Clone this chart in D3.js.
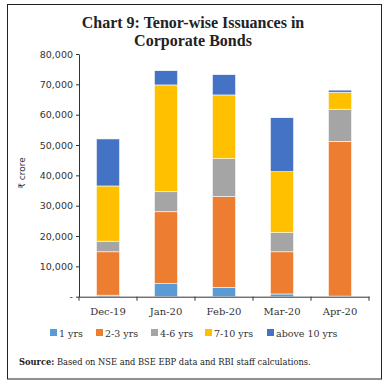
<!DOCTYPE html>
<html>
<head>
<meta charset="utf-8">
<script src="https://cdn.jsdelivr.net/npm/d3@7"></script>
<style>
  body { margin: 0; background: #fff; }
  svg { display: block; }
</style>
</head>
<body>
<svg width="387" height="386"></svg>
<script>
// data
const months = ["Dec-19", "Jan-20", "Feb-20", "Mar-20", "Apr-20"];
const tenors = ["1 yrs", "2-3 yrs", "4-6 yrs", "7-10 yrs", "above 10 yrs"];
const oneYr    = [500, 4300, 3100, 900, 200];
const twoThree = [14300, 23700, 29900, 13900, 51000];
const fourSix  = [3500, 6600, 12500, 6300, 10600];
const sevenTen = [18200, 35200, 21000, 20100, 5600];
const aboveTen = [15500, 4700, 6700, 17800, 700];
const yTicks = [0, 10000, 20000, 30000, 40000, 50000, 60000, 70000, 80000];
const colors = ["#5b9bd5", "#ed7d31", "#a5a5a5", "#ffc000", "#4472c4"];

const svg = d3.select("svg");

// frame
svg.append("rect")
  .attr("x", 7.5).attr("y", 4.5)
  .attr("width", 374).attr("height", 374.5)
  .attr("fill", "none").attr("stroke", "#222").attr("stroke-width", 1);

// title
const title = svg.append("text")
  .attr("text-anchor", "middle")
  .style("font-family", "'Liberation Serif', serif")
  .style("font-weight", "bold")
  .style("font-size", "16px")
  .attr("fill", "#222");
title.append("tspan").attr("x", 193).attr("y", 28).text("Chart 9: Tenor-wise Issuances in");
title.append("tspan").attr("x", 193).attr("y", 46).text("Corporate Bonds");

const margin = {left: 79, top: 54};
const innerW = 369 - 79;
const innerH = 296.7 - 54;

const table = months.map((m, i) => ({
  month: m,
  "1 yrs": oneYr[i], "2-3 yrs": twoThree[i], "4-6 yrs": fourSix[i],
  "7-10 yrs": sevenTen[i], "above 10 yrs": aboveTen[i]
}));
const stacked = d3.stack().keys(tenors)(table);

const x = d3.scaleBand().domain(months).range([0, innerW])
  .paddingInner(0.6).paddingOuter(0.3);
const y = d3.scaleLinear().domain([0, 80000]).range([innerH, 0]);
const color = d3.scaleOrdinal().domain(tenors).range(colors);

const g = svg.append("g").attr("transform", `translate(${margin.left},${margin.top})`);

g.selectAll(".series")
  .data(stacked)
  .enter()
  .append("g")
  .attr("class", "series")
  .attr("fill", d => color(d.key))
  .selectAll("rect")
  .data(d => d)
  .enter()
  .append("rect")
  .attr("x", d => x(d.data.month))
  .attr("y", d => y(d[1]))
  .attr("width", x.bandwidth())
  .attr("height", d => y(d[0]) - y(d[1]))
  .attr("stroke", "#fff")
  .attr("stroke-width", 0.6);

// y axis
const yAxis = d3.axisLeft(y).tickValues(yTicks).tickSize(3).tickSizeOuter(0)
  .tickFormat(d => d === 0 ? "-" : d3.format(",")(d));
const ya = g.append("g").call(yAxis);
ya.select(".domain").attr("stroke", "#333");
ya.selectAll(".tick line").attr("stroke", "#333");
ya.selectAll("text")
  .style("font-family", "'DejaVu Sans', sans-serif")
  .style("font-size", "9.5px")
  .attr("fill", "#333")
  .attr("x", -6);

// x axis: labels centred on bars, ticks at category boundaries
const xAxis = d3.axisBottom(x).tickSize(0).tickSizeOuter(0);
const xa = g.append("g").attr("transform", `translate(0,${innerH})`).call(xAxis);
xa.select(".domain").attr("stroke", "#333");
xa.selectAll("text")
  .style("font-family", "'DejaVu Serif', serif")
  .style("font-size", "10px")
  .attr("fill", "#333")
  .attr("dy", "1.55em");
const bounds = months.map(m => x(m) + x.bandwidth() / 2 - x.step() / 2)
  .concat([innerW]);
xa.selectAll(".bound")
  .data(bounds)
  .enter()
  .append("line")
  .attr("x1", d => d).attr("x2", d => d)
  .attr("y1", 0).attr("y2", 4)
  .attr("stroke", "#333");

// y label
svg.append("text")
  .attr("transform", "translate(25,173) rotate(-90)")
  .attr("text-anchor", "middle")
  .style("font-family", "'DejaVu Sans', sans-serif")
  .style("font-size", "9px")
  .attr("fill", "#333")
  .text("₹ crore");

// legend
const legendX = [50, 96, 151, 205, 267];
const legend = svg.append("g");
const item = legend.selectAll("g")
  .data(tenors)
  .enter()
  .append("g")
  .attr("transform", (d, i) => `translate(${legendX[i]},329)`);
item.append("rect")
  .attr("width", 7).attr("height", 7)
  .attr("fill", d => color(d));
item.append("text")
  .attr("x", 9).attr("y", 7.5)
  .style("font-family", "'DejaVu Serif', serif")
  .style("font-size", "9.5px")
  .attr("fill", "#333")
  .text(d => d);

// source note
const src = svg.append("text")
  .attr("x", 19).attr("y", 365)
  .style("font-family", "'DejaVu Serif', serif")
  .style("font-size", "8.3px")
  .attr("fill", "#222");
src.append("tspan").style("font-weight", "bold").text("Source:");
src.append("tspan").text(" Based on NSE and BSE EBP data and RBI staff calculations.");
</script>
</body>
</html>
